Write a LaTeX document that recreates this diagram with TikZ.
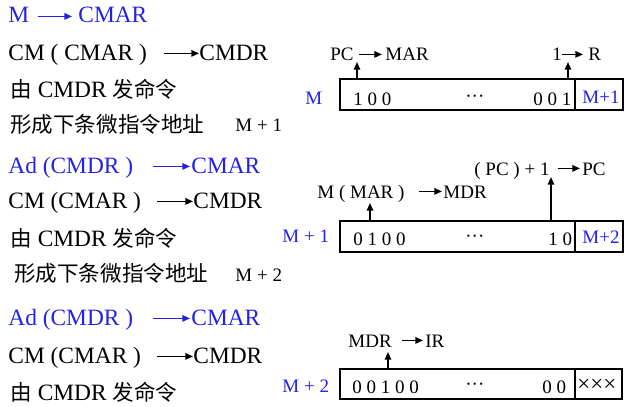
\documentclass[tikz,border=0pt]{standalone}
\usepackage{fontspec}
\setmainfont{Liberation Serif}
\newfontfamily\cjk[Scale=0.92]{Noto Sans CJK SC}
\usetikzlibrary{arrows.meta,fit}
\definecolor{lblue}{HTML}{2323E6}

\begin{document}
\begin{tikzpicture}[x=0.5pt,y=-0.5pt, every node/.style={inner sep=0pt,anchor=base west,text height=.66em,text depth=0pt}, big/.style={font=\fontsize{11.7}{14}\selectfont}, small/.style={font=\fontsize{9.5}{11}\selectfont}, blu/.style={text=lblue}, fld/.style={draw,line width=1pt,inner sep=0pt,anchor=center,text height=0pt}, >={Triangle[length=3.8pt,width=3.2pt]}, arr/.style={->,line width=.8pt}]
\useasboundingbox (0,0) rectangle (632,407);
% step 1: fetch the microinstruction at M
\node[big,blu] (m1) at (8,23) {M};
\node[big,blu] (cmar1) at (78,23) {CMAR};
\node[big] (cm1) at (8,60) {CM ( CMAR )};
\node[big] (cmdr1) at (199,60) {CMDR};
\node[big] (cmd1) at (10,97) {{\cjk 由} CMDR {\cjk 发命令}};
\node[big] (nx1) at (10,132) {\cjk 形成下条微指令地址};
\node[small] (na1) at (235,131) {M + 1};
\draw[arr,lblue,shorten <=4pt,shorten >=3pt] (m1)--(cmar1);
\draw[arr,shorten <=8.5pt] (cm1)--(cmdr1);
\node[small,blu] (lm1) at (305,104) {M};
\node[fld,fit={(340,79)(575,110)}] (f1) {};
\node[fld,fit={(575,79)(623,110)}] (g1) {};
\node[small] (d1) at (353,105) {1 0 0};
\node[small] (e1) at (465,105) {\raisebox{1.5pt}{···}};
\node[small] (z1) at (533,105) {0 0 1};
\node[small,blu] (n1) at (582,103) {M+1};
\node[small] (pc1) at (330,61) {PC};
\node[small] (mar1) at (385,61) {MAR};
\node[small] (one1) at (552,61) {1};
\node[small] (r1) at (588,61) {R};
\coordinate (u1) at (357,62);
\coordinate (u2) at (568,62);
\draw[arr,shorten <=2.5pt,shorten >=1.5pt] (pc1)--(mar1);
\draw[arr,shorten >=2.5pt] (one1)--(r1);
\draw[arr] (u1 |- f1.north)--(u1);
\draw[arr] (u2 |- f1.north)--(u2);
% step 2: fetch the microinstruction at M+1
\node[big,blu] (ad2) at (8,173) {Ad (CMDR )};
\node[big,blu] (cmar2) at (191,173) {CMAR};
\node[big] (cm2) at (8,208) {CM (CMAR )};
\node[big] (cmdr2) at (193,208) {CMDR};
\node[big] (cmd2) at (10,246) {{\cjk 由} CMDR {\cjk 发命令}};
\node[big] (nx2) at (14,281) {\cjk 形成下条微指令地址};
\node[small] (na2) at (235,281) {M + 2};
\draw[arr,lblue,shorten <=9.5pt,shorten >=.5pt] (ad2)--(cmar2);
\draw[arr,shorten <=8pt] (cm2)--(cmdr2);
\node[small,blu] (lm2) at (282,242) {M + 1};
\node[fld,fit={(340,221)(575,252)}] (f2) {};
\node[fld,fit={(575,221)(623,252)}] (g2) {};
\node[small] (d2) at (353,245) {0 1 0 0};
\node[small] (e2) at (465,245) {\raisebox{1.5pt}{···}};
\node[small] (z2) at (548,245) {1 0};
\node[small,blu] (n2) at (582,243) {M+2};
\node[small] (mm2) at (317,198) {M ( MAR )};
\node[small] (mdr2) at (443,198) {MDR};
\node[small] (pcp2) at (474,175) {( PC ) + 1};
\node[small] (pc2) at (582,175) {PC};
\coordinate (u3) at (370,203);
\coordinate (u4) at (551,177);
\draw[arr,shorten <=7pt,shorten >=.5pt] (mm2)--(mdr2);
\draw[arr,shorten <=4pt,shorten >=1pt] (pcp2)--(pc2);
\draw[arr] (u3 |- f2.north)--(u3);
\draw[arr] (u4 |- f2.north)--(u4);
% step 3: fetch the microinstruction at M+2
\node[big,blu] (ad3) at (8,325) {Ad (CMDR )};
\node[big,blu] (cmar3) at (191,325) {CMAR};
\node[big] (cm3) at (8,363) {CM (CMAR )};
\node[big] (cmdr3) at (193,363) {CMDR};
\node[big] (cmd3) at (10,400) {{\cjk 由} CMDR {\cjk 发命令}};
\draw[arr,lblue,shorten <=9.5pt,shorten >=.5pt] (ad3)--(cmar3);
\draw[arr,shorten <=8pt] (cm3)--(cmdr3);
\node[small,blu] (lm3) at (282,392) {M + 2};
\node[fld,fit={(340,369)(575,399)}] (f3) {};
\node[fld,fit={(575,369)(622,399)}] (g3) {};
\node[small] (d3) at (352,393) {0 0 1 0 0};
\node[small] (e3) at (465,393) {\raisebox{1.5pt}{···}};
\node[small] (z3) at (542,393) {0 0};
\node[font=\fontsize{11.5}{13}\selectfont] (xx3) at (577,391) {×××};
\node[small] (mdr3) at (348,347) {MDR};
\node[small] (ir3) at (425,347) {IR};
\coordinate (u5) at (388,352);
\draw[arr,shorten <=5pt,shorten >=1pt] (mdr3)--(ir3);
\draw[arr] (u5 |- f3.north)--(u5);
\end{tikzpicture}
\end{document}
